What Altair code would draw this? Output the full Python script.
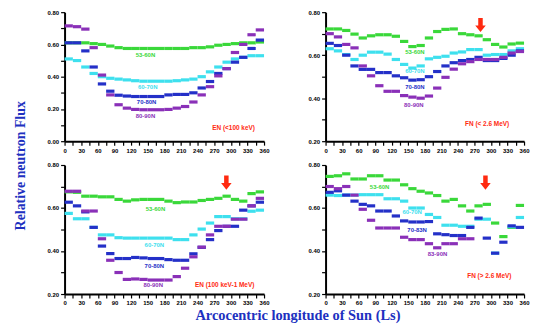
import altair as alt
import pandas as pd

# ---------------- data ----------------
LS_START = list(range(0, 360, 15))     # 24 longitude bins of 15 deg
BIN = 15
SERIES = ["53-60N", "60-70N", "70-80N", "80-90N"]
COLORS = ["#3ad83a", "#3ee0ee", "#2430c8", "#8a30b8"]

# Panel A : EN (<100 keV)
a_g = [0.61, 0.61, 0.61, 0.605, 0.60, 0.59, 0.58, 0.575, 0.575, 0.575, 0.575, 0.575,
       0.575, 0.575, 0.575, 0.58, 0.58, 0.585, 0.595, 0.60, 0.605, 0.61, 0.61, 0.615]
a_c = [0.51, 0.50, 0.46, 0.42, 0.40, 0.39, 0.385, 0.38, 0.375, 0.372, 0.372, 0.372,
       0.372, 0.375, 0.38, 0.385, 0.40, 0.43, 0.46, 0.49, 0.51, 0.52, 0.53, 0.53]
a_b = [0.61, 0.61, 0.56, 0.46, 0.355, 0.31, 0.285, 0.28, 0.277, 0.277, 0.277, 0.277,
       0.287, 0.29, 0.29, 0.30, 0.33, 0.37, 0.42, 0.45, 0.49, 0.52, 0.575, 0.627]
a_p = [0.715, 0.71, 0.695, 0.58, 0.41, 0.287, 0.226, 0.205, 0.197, 0.195, 0.195, 0.195,
       0.197, 0.205, 0.215, 0.243, 0.287, 0.338, 0.405, 0.45, 0.55, 0.60, 0.66, 0.69]

# Panel B : FN (< 2.6 MeV)
b_g = [0.722, 0.722, 0.715, 0.698, 0.68, 0.69, 0.695, 0.695, 0.688, 0.664, 0.64, 0.645,
       0.68, 0.71, 0.72, 0.722, 0.70, 0.695, 0.69, 0.672, 0.65, 0.638, 0.652, 0.656]
b_c = [0.63, 0.62, 0.603, 0.58, 0.60, 0.614, 0.614, 0.605, 0.58, 0.557, 0.54, 0.55,
       0.583, 0.59, 0.595, 0.61, 0.615, 0.626, 0.626, 0.60, 0.603, 0.603, 0.62, 0.63]
b_b = [0.655, 0.645, 0.60, 0.55, 0.534, 0.534, 0.519, 0.519, 0.504, 0.495, 0.484, 0.486,
       0.50, 0.524, 0.55, 0.565, 0.575, 0.58, 0.59, 0.575, 0.575, 0.585, 0.60, 0.62]
b_p = [0.70, 0.685, 0.65, 0.634, 0.55, 0.504, 0.458, 0.432, 0.432, 0.412, 0.405, 0.40,
       0.41, 0.447, 0.497, 0.535, 0.56, 0.57, 0.58, 0.58, 0.58, 0.59, 0.61, 0.617]

# Panel C : EN (100 keV-1 MeV)
c_g = [0.675, 0.673, 0.655, 0.655, 0.652, 0.652, 0.64, 0.632, 0.638, 0.64, 0.64, 0.64,
       0.632, 0.625, 0.628, 0.628, 0.635, 0.64, 0.645, 0.655, 0.64, 0.632, 0.667, 0.675]
c_c = [0.575, 0.55, 0.55, 0.51, 0.475, 0.475, 0.462, 0.46, 0.46, 0.46, 0.46, 0.46,
       0.46, 0.453, 0.453, 0.475, 0.502, 0.53, 0.56, 0.56, 0.55, 0.55, 0.585, 0.59]
c_b = [0.627, 0.61, 0.582, 0.51, 0.423, 0.388, 0.365, 0.365, 0.37, 0.368, 0.365, 0.365,
       0.36, 0.357, 0.357, 0.387, 0.417, 0.453, 0.495, 0.515, 0.515, 0.59, 0.61, 0.627]
c_p = [0.678, 0.678, 0.586, 0.586, 0.457, 0.357, 0.30, 0.268, 0.27, 0.268, 0.265, 0.265,
       0.265, 0.281, 0.32, 0.373, 0.418, 0.475, 0.515, 0.515, 0.548, 0.548, 0.61, 0.645]

# Panel D : FN (> 2.6 MeV)
d_g = [0.747, 0.75, 0.759, 0.735, 0.735, 0.75, 0.75, 0.73, 0.73, 0.708, 0.69, 0.678,
       0.67, 0.658, 0.632, 0.64, 0.61, 0.586, 0.61, 0.617, 0.53, 0.467, 0.51, 0.612]
d_c = [0.66, 0.658, 0.66, 0.66, 0.662, 0.662, 0.662, 0.643, 0.643, 0.632, 0.60, 0.60,
       0.57, 0.556, 0.52, 0.52, 0.515, 0.515, 0.548, 0.548, 0.39, None, 0.513, 0.556]
d_b = [0.673, 0.68, 0.66, 0.632, 0.617, 0.61, 0.586, 0.586, 0.563, 0.54, 0.535, 0.535,
       0.537, 0.48, 0.476, 0.472, 0.472, 0.51, 0.553, 0.46, 0.39, 0.441, 0.517, 0.51]
d_p = [0.70, 0.69, 0.70, 0.66, 0.594, 0.543, 0.507, 0.507, 0.507, 0.464, 0.453, 0.453,
       0.434, 0.415, 0.434, 0.434, 0.457, 0.457, None, None, None, None, None, None]

# latitude labels: (text, Ls, value, series index)
a_lab = [("53-60N", 146, 0.535, 0), ("60-70N", 150, 0.338, 1), ("70-80N", 148, 0.24, 2), ("80-90N", 146, 0.155, 3)]
b_lab = [("53-60N", 162, 0.614, 0), ("60-70N", 162, 0.527, 1), ("70-80N", 162, 0.453, 2), ("80-90N", 160, 0.366, 3)]
c_lab = [("53-60N", 164, 0.594, 0), ("60-70N", 162, 0.426, 1), ("70-80N", 162, 0.331, 2), ("80-90N", 160, 0.24, 3)]
d_lab = [("53-60N", 98, 0.698, 0), ("60-70N", 157, 0.58, 1), ("70-83N", 166, 0.498, 2), ("83-90N", 203, 0.388, 3)]

notes = ["EN (<100 keV)", "FN (< 2.6 MeV)", "EN (100 keV-1 MeV)", "FN (> 2.6 MeV)"]
note_pos = [(305, 0.08), (293, 0.278), (289, 0.243), (297, 0.282)]
arrows = [None, (281, 0.74), (292, 0.718), (290, 0.718)]

panels = {
    "A": [a_g, a_c, a_b, a_p],
    "B": [b_g, b_c, b_b, b_p],
    "C": [c_g, c_c, c_b, c_p],
    "D": [d_g, d_c, d_b, d_p],
}
labels = {"A": a_lab, "B": b_lab, "C": c_lab, "D": d_lab}

rows = []
for key, sers in panels.items():
    for si, vals in enumerate(sers):
        for x0, v in zip(LS_START, vals):
            if v is None:
                continue
            rows.append({"panel": key, "series": SERIES[si], "x": x0, "x2": x0 + BIN, "y": v})
df = pd.DataFrame(rows)

RED = "#ff2a10"
BLUE = "#2030c0"
ARROW = "M-0.32,-1L0.32,-1L0.32,0.05L0.75,0.05L0,1L-0.75,0.05L-0.32,0.05Z"
X_TICKS = list(range(0, 361, 15))


def panel(idx, key, ydom, width, height):
    d = df[df.panel == key]
    yvals = [round(ydom[0] + 0.1 * i, 2) for i in range(int(round((ydom[1] - ydom[0]) * 10)) + 1)]
    xaxis = alt.Axis(values=X_TICKS,
                     labelExpr="datum.value % 30 == 0 ? format(datum.value, 'd') : ''",
                     labelOverlap=False, labelBound=False, labelFlush=False, title=None)
    yaxis = alt.Axis(values=yvals,
                     labelExpr="(round(datum.value*10) % 2 == 0) ? format(datum.value, '.2f') : ''",
                     labelOverlap=False, labelBound=False, labelFlush=False, title=None)
    xscale = alt.Scale(domain=[0, 360], nice=False, zero=False)
    yscale = alt.Scale(domain=ydom, nice=False, zero=False)

    def X():
        return alt.X("x:Q", scale=xscale, axis=xaxis)

    def Y():
        return alt.Y("y:Q", scale=yscale, axis=yaxis)

    col = alt.Color("series:N", scale=alt.Scale(domain=SERIES, range=COLORS), legend=None)
    rules = alt.Chart(d).mark_rule(strokeWidth=3.2).encode(x=X(), x2="x2:Q", y=Y(), color=col)

    lab = pd.DataFrame([{"t": t, "x": x, "y": y, "series": SERIES[s]} for t, x, y, s in labels[key]])
    texts = alt.Chart(lab).mark_text(fontSize=6, fontWeight="bold", font="Liberation Sans").encode(
        x=X(), y=Y(), text="t:N", color=col)

    nx, ny = note_pos[idx]
    nd = pd.DataFrame([{"t": notes[idx], "x": nx, "y": ny}])
    note = alt.Chart(nd).mark_text(fontSize=6.5, fontWeight="bold", color=RED, font="Liberation Sans").encode(
        x=X(), y=Y(), text="t:N")

    layers = [rules, texts, note]
    if arrows[idx] is not None:
        ax, ay = arrows[idx]
        ad = pd.DataFrame([{"x": ax, "y": ay}])
        arr = alt.Chart(ad).mark_point(shape=ARROW, filled=True, color=RED, opacity=1, size=200, strokeWidth=0).encode(
            x=X(), y=Y())
        layers.append(arr)
    return alt.layer(*layers).properties(width=width, height=height)


W_L, W_R, H = 201, 200, 130
pA = panel(0, "A", [0.0, 0.8], W_L, H)
pB = panel(1, "B", [0.2, 0.8], W_R, H)
pC = panel(2, "C", [0.2, 0.8], W_L, H)
pD = panel(3, "D", [0.2, 0.8], W_R, H)

top = alt.hconcat(pA, pB, spacing=38)
bot = alt.hconcat(pC, pD, spacing=38)
grid = alt.vconcat(top, bot, spacing=9).properties(
    title=alt.TitleParams("Arcocentric longitude of Sun (Ls)", orient="bottom", anchor="middle",
                          font="Liberation Serif", fontSize=14.5, fontWeight="bold", color=BLUE,
                          offset=3, dx=10))

chart = alt.hconcat(grid, spacing=0).properties(
    title=alt.TitleParams("Relative neutron Flux", orient="left", anchor="middle",
                          font="Liberation Serif", fontSize=14, fontWeight="bold", color=BLUE,
                          offset=19),
    padding={"left": 6, "top": 0, "right": 0, "bottom": 0},
).configure_view(stroke=None).configure_axis(
    grid=False, domainColor="black", domainWidth=2, tickColor="black", tickWidth=1.2,
    tickSize=4, labelFontSize=6, labelFontWeight="bold", labelColor="black",
    labelFont="Liberation Sans", labelPadding=2, labelOverlap=False,
)

chart.save("out.html", embed_options={"renderer": "svg", "actions": False})
